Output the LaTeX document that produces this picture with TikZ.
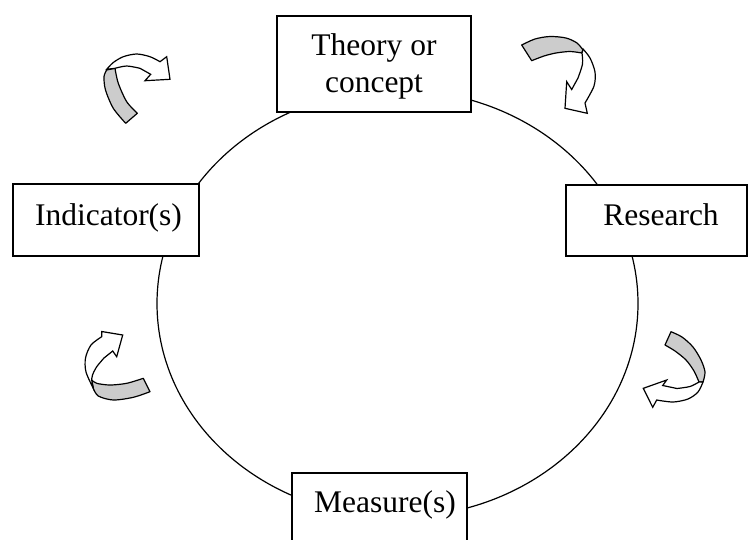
\documentclass[tikz,border=0pt]{standalone}
\usepackage{fontspec}
\setmainfont{Liberation Serif}
\begin{document}
\begin{tikzpicture}[x=1pt,y=-1pt,
  boxnode/.style={draw=black,line width=1.4pt,fill=white,inner sep=0pt,minimum width=#1},
  lbl/.style={inner sep=0pt,anchor=base,font=\fontsize{31.5pt}{38pt}\selectfont},
  bandgray/.style={draw=black,line width=1.2pt,fill=black!20,line join=round},
  bandwhite/.style={draw=black,line width=1.2pt,fill=white,line join=miter}]
\useasboundingbox (0,0) rectangle (749,539);
\clip (0,0) rectangle (749,539);
\fill[white] (0,0) rectangle (749,539);
% cycle
\draw[line width=1.2pt] (397.5,303.5) ellipse [x radius=240.5pt, y radius=213.6pt];
% boxes
\node[boxnode=194pt,minimum height=96pt] (theory) at (374,64) {};
\node[boxnode=186pt,minimum height=72pt] (indicator) at (106,220) {};
\node[boxnode=181pt,minimum height=71pt] (research) at (656.5,220.5) {};
\node[boxnode=175pt,minimum height=80pt] (measure) at (379.5,513) {};
% labels
\node[lbl] (theoryA) at (374,55) {Theory or};
\node[lbl] (theoryB) at (374,92.7) {concept};
\node[lbl] (indT) at (108.5,225) {Indicator(s)};
\node[lbl] (resT) at (661,225) {Research};
\node[lbl] (meaT) at (385,512.7) {Measure(s)};
% arrow 1 (top-left)
\draw[bandgray] plot[smooth] coordinates {(125.7,123.3) (113.3,108.3) (105.5,90) (104,76.7) (106.7,70)}
  -- plot[smooth] coordinates {(115,68.3) (118.3,83.3) (126.7,101.7) (137.3,113.3)} -- cycle;
\draw[bandwhite] plot[smooth] coordinates {(106.7,69.3) (113.3,62.5) (123.3,56.7) (136.7,54) (150,56.7) (160,61.7)}
  -- (166.7,56.7) -- (170,79.3) -- (145,80.7) -- (150.7,74.3)
  -- plot[smooth] coordinates {(140,68.3) (126.7,66) (115,68.3)} -- cycle;
% arrow 2 (top-right)
\draw[bandgray] plot[smooth] coordinates {(521.7,45) (535,39) (550,36.5) (566,38) (577,43) (583,50)}
  -- plot[smooth] coordinates {(581.7,53) (570,51.5) (556,53) (544,56) (531.7,60.7)} -- cycle;
\draw[bandwhite] plot[smooth] coordinates {(583,49) (590,58) (595,72) (594,86) (585,103)}
  -- (587.3,113.3) -- (565,108.3) -- (566.7,81.7) -- (571.7,89.5)
  -- plot[smooth] coordinates {(578,78) (582.5,64) (582,53)} -- cycle;
% arrow 3 (bottom-left)
\draw[bandgray] plot[smooth] coordinates {(143.3,378.3) (126.7,383.3) (110,385) (96.7,383.3) (91.7,380)}
  -- plot[smooth] coordinates {(93.3,388.3) (98.3,396) (113.3,400) (133.3,397.3) (150,391.7)} -- cycle;
\draw[bandwhite] plot[smooth] coordinates {(93.3,388.3) (86,372) (85.5,358) (91,345) (101.7,336.7)}
  -- (101.7,331.5) -- (122.7,335) -- (116.7,356.7) -- (112.7,351)
  -- plot[smooth] coordinates {(104,358) (96.5,367) (92.5,375) (91.7,380)} -- cycle;
% arrow 4 (bottom-right)
\draw[bandgray] plot[smooth] coordinates {(671,331.7) (682,337) (693,347) (701,360) (705,372) (703,382)}
  -- plot[smooth] coordinates {(699,382) (694,371) (686,360) (675,351) (665,345)} -- cycle;
\draw[bandwhite] plot[smooth] coordinates {(703,382) (698,392) (688,399) (673,402) (656.7,400)}
  -- (652.7,407.3) -- (643.3,388.3) -- (666.7,380) -- (662.7,385.5)
  -- plot[smooth] coordinates {(677,388.5) (690,386.5) (699,382)} -- cycle;
\end{tikzpicture}
\end{document}
